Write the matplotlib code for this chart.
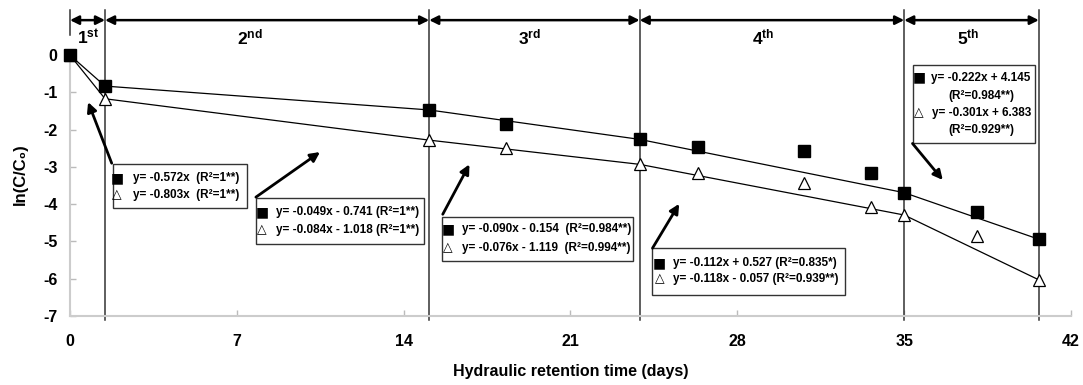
import matplotlib
matplotlib.use("Agg")
import matplotlib.pyplot as plt
from matplotlib.patches import Rectangle

plt.rcParams['font.family'] = ['Liberation Sans', 'DejaVu Sans']
plt.rcParams['font.weight'] = 'bold'
plt.rcParams['mathtext.fontset'] = 'custom'
plt.rcParams['mathtext.rm'] = 'Liberation Sans:bold'
plt.rcParams['mathtext.it'] = 'Liberation Sans:bold'
plt.rcParams['mathtext.bf'] = 'Liberation Sans:bold'

# ---- data ----
hrt = [0, 1.47, 15.07, 18.3, 23.9, 26.36, 30.78, 33.6, 35.0, 38.07, 40.65]
series_sq = [0, -0.83, -1.47, -1.86, -2.26, -2.46, -2.57, -3.17, -3.69, -4.22, -4.94]
series_tri = [0, -1.17, -2.28, -2.50, -2.93, -3.16, -3.44, -4.08, -4.29, -4.85, -6.03]
stage_bounds = [0, 1.47, 15.07, 23.9, 35.0, 40.65]
stage_labels = ['1$^{st}$', '2$^{nd}$', '3$^{rd}$', '4$^{th}$', '5$^{th}$']
xticks = [0, 7, 14, 21, 28, 35, 42]
yticks = [0, -1, -2, -3, -4, -5, -6, -7]

eq_sq = ['y= -0.572x  (R²=1**)', 'y= -0.049x - 0.741 (R²=1**)',
         'y= -0.090x - 0.154  (R²=0.984**)', 'y= -0.112x + 0.527 (R²=0.835*)',
         'y= -0.222x + 4.145', '(R²=0.984**)']
eq_tri = ['y= -0.803x  (R²=1**)', 'y= -0.084x - 1.018 (R²=1**)',
          'y= -0.076x - 1.119  (R²=0.994**)', 'y= -0.118x - 0.057 (R²=0.939**)',
          'y= -0.301x + 6.383', '(R²=0.929**)']

fig = plt.figure(figsize=(10.83, 3.85), dpi=100)
ax = fig.add_axes([70/1083, 69/385, 1001/1083, 313/385])
ax.set_xlim(0, 42)
ax.set_ylim(-7, 1.4)

# lines connecting stage boundary points
bidx = [hrt.index(b) for b in stage_bounds]
ax.plot([hrt[i] for i in bidx], [series_sq[i] for i in bidx], color='black', lw=0.9, zorder=3)
ax.plot([hrt[i] for i in bidx], [series_tri[i] for i in bidx], color='black', lw=0.9, zorder=3)
ax.plot(hrt, series_sq, 's', color='black', ms=8.5, ls='none', zorder=5, clip_on=False)
ax.plot(hrt, series_tri, '^', mfc='white', mec='black', mew=0.9, ms=9, ls='none', zorder=4, clip_on=False)

# stage vertical lines
for b in stage_bounds[1:]:
    ax.plot([b, b], [-7.1, 1.2], color='#333333', lw=1.1, clip_on=False, zorder=2)
ax.plot([0, 0], [0.55, 1.2], color='#333333', lw=1.1, clip_on=False, zorder=2)

# stage arrows and labels
label_x = [0.75, 7.56, 19.3, 29.1, 37.7]
for i in range(5):
    ax.annotate('', xy=(stage_bounds[i], 0.94), xytext=(stage_bounds[i+1], 0.94),
                arrowprops=dict(arrowstyle='<|-|>', color='black', lw=1.8,
                                mutation_scale=13, shrinkA=0, shrinkB=0),
                annotation_clip=False)
    ax.text(label_x[i], 0.47, stage_labels[i], ha='center', va='center', fontsize=12.5)

# annotation boxes
boxes = [(1.79, -4.11, 7.41, -2.93), (7.80, -5.07, 14.85, -3.84),
         (15.60, -5.52, 23.64, -4.34), (24.44, -6.43, 32.52, -5.18),
         (35.35, -2.37, 40.49, -0.27)]
arrows = [((1.75, -2.90), (0.76, -1.26)), ((7.80, -3.81), (10.49, -2.60)),
          ((15.64, -4.27), (16.76, -2.93)), ((24.44, -5.18), (25.56, -3.99)),
          ((35.35, -2.37), (36.62, -3.35))]
for (x0, y0, x1, y1) in boxes:
    ax.add_patch(Rectangle((x0, y0), x1 - x0, y1 - y0, fill=True, fc='white',
                           ec='#333333', lw=1.0, zorder=6))
for tail, head in arrows:
    ax.annotate('', xy=head, xytext=tail,
                arrowprops=dict(arrowstyle='-|>', color='black', lw=2.0,
                                mutation_scale=14, shrinkA=0, shrinkB=0), zorder=7)

fs = 8.5
mk_x = [1.97, 8.06, 15.86, 24.73]
tx_x = [2.64, 8.64, 16.44, 25.29]
l1_y = [-3.30, -4.21, -4.67, -5.58]
l2_y = [-3.75, -4.69, -5.18, -6.01]
for i in range(4):
    ax.text(mk_x[i], l1_y[i], '■', ha='center', va='center', fontsize=10,
            family=['DejaVu Sans'], zorder=8)
    ax.text(mk_x[i], l2_y[i], '△', ha='center', va='center', fontsize=9,
            family=['DejaVu Sans'], zorder=8, fontweight='normal')
    ax.text(tx_x[i], l1_y[i], eq_sq[i], ha='left', va='center', fontsize=fs, zorder=8)
    ax.text(tx_x[i], l2_y[i], eq_tri[i], ha='left', va='center', fontsize=fs, zorder=8)

# box 5
ax.text(35.62, -0.60, '■', ha='center', va='center', fontsize=10, family=['DejaVu Sans'], zorder=8)
ax.text(35.62, -1.54, '△', ha='center', va='center', fontsize=9, family=['DejaVu Sans'],
        fontweight='normal', zorder=8)
ax.text(38.23, -0.60, eq_sq[4], ha='center', va='center', fontsize=fs, zorder=8)
ax.text(38.23, -1.09, eq_sq[5], ha='center', va='center', fontsize=fs, zorder=8)
ax.text(38.23, -1.54, eq_tri[4], ha='center', va='center', fontsize=fs, zorder=8)
ax.text(38.23, -2.01, eq_tri[5], ha='center', va='center', fontsize=fs, zorder=8)

# axes styling
for s in ['top', 'right']:
    ax.spines[s].set_visible(False)
for s in ['left', 'bottom']:
    ax.spines[s].set_color('#cccccc')
    ax.spines[s].set_linewidth(1.5)
ax.spines['left'].set_bounds(-7, 0)
ax.set_xticks(xticks)
ax.set_yticks(yticks)
ax.set_yticklabels([str(v) for v in yticks])
ax.tick_params(axis='both', direction='in', color='#bbbbbb', length=4, width=1,
               labelsize=11.5)
ax.tick_params(axis='x', pad=13)
ax.tick_params(axis='y', pad=9)
for lab in ax.get_xticklabels() + ax.get_yticklabels():
    lab.set_fontweight('bold')

ax.set_xlabel('Hydraulic retention time (days)', fontsize=11.5, fontweight='bold', labelpad=11)
fig.text(20/1083, 1 - 174/385, 'ln(C/C₀)', rotation=90, ha='center', va='center',
         fontsize=12, fontweight='bold')

fig.savefig('out.png', dpi=100)
